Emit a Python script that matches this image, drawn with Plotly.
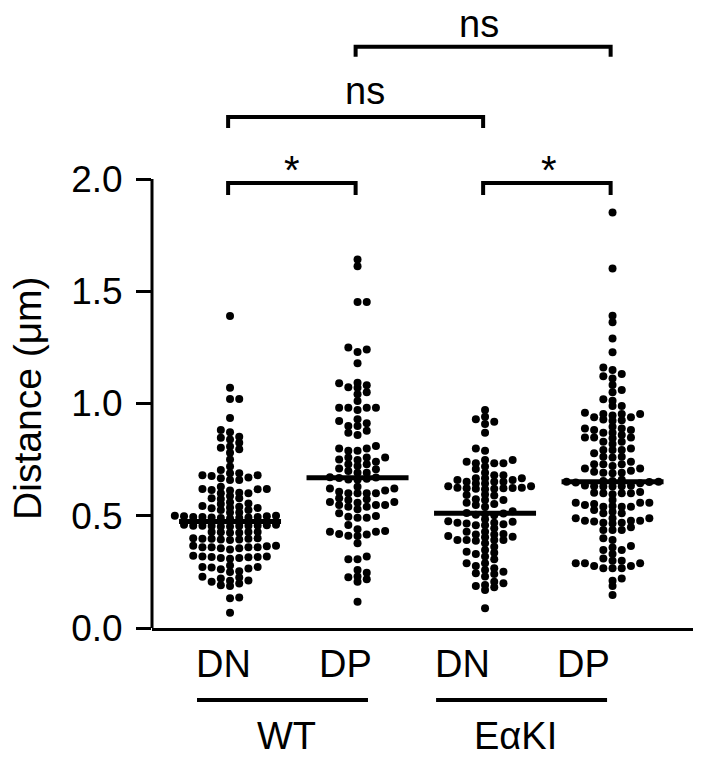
import numpy as np
import plotly.graph_objects as go

# ---------------- data (distance, µm) ----------------
group_labels = ["DN", "DP", "DN", "DP"]
genotype_labels = ["WT", "EαKI"]
y_tick_values = [0.0, 0.5, 1.0, 1.5, 2.0]
y_tick_labels = ["0.0", "0.5", "1.0", "1.5", "2.0"]
y_title = "Distance (μm)"

wt_dn = [
    1.39, 1.07, 1.02, 1.02, 0.935, 0.882, 0.872, 0.852, 0.840, 0.848, 0.825,
    0.803, 0.796, 0.808, 0.781, 0.751, 0.719, 0.704,
    0.689, 0.681, 0.670, 0.659, 0.667, 0.677, 0.681, 0.689, 0.659,
    0.615, 0.612, 0.600, 0.619, 0.619, 0.629, 0.588, 0.603, 0.618, 0.600,
    0.578, 0.578, 0.575,
    0.560, 0.552, 0.543, 0.537, 0.535, 0.533, 0.540, 0.555,
    0.514, 0.526, 0.514, 0.526,
    0.500, 0.498, 0.494, 0.492, 0.490, 0.492, 0.494, 0.494, 0.498, 0.500, 0.490, 0.488,
    0.458, 0.460, 0.456, 0.454, 0.456, 0.452, 0.454, 0.456, 0.452, 0.456, 0.460,
    0.428, 0.426, 0.424, 0.428, 0.428, 0.424,
    0.400, 0.398, 0.394, 0.392, 0.398, 0.394, 0.398, 0.400,
    0.366, 0.360, 0.360, 0.355, 0.360, 0.350, 0.355, 0.360, 0.364, 0.366,
    0.322, 0.318, 0.312, 0.316, 0.308, 0.316, 0.312, 0.318, 0.315,
    0.278, 0.272, 0.262, 0.270, 0.250, 0.253, 0.265, 0.272,
    0.228, 0.220, 0.212, 0.206, 0.198, 0.210, 0.225,
    0.187, 0.190, 0.136, 0.132, 0.068,
]

wt_dp = [
    1.642, 1.612, 1.452, 1.452, 1.241, 1.229, 1.250, 1.179,
    1.093, 1.081, 1.090, 1.070, 1.072, 1.041, 1.050, 1.011,
    0.981, 0.981, 0.971, 0.981, 0.981,
    0.930, 0.912, 0.922, 0.900, 0.900, 0.870, 0.860, 0.879,
    0.811, 0.800, 0.790, 0.790, 0.800,
    0.760, 0.760, 0.748, 0.741, 0.751, 0.760, 0.730, 0.722, 0.730,
    0.711, 0.699, 0.707, 0.692, 0.692,
    0.670, 0.665, 0.668, 0.662, 0.672, 0.660,
    0.629, 0.621, 0.607, 0.600, 0.600, 0.600, 0.600, 0.612, 0.621,
    0.573, 0.561, 0.561, 0.548, 0.540, 0.540, 0.548, 0.548, 0.558, 0.570, 0.578,
    0.529, 0.511, 0.491, 0.491, 0.496, 0.499, 0.459,
    0.440, 0.429, 0.429, 0.432, 0.417, 0.419, 0.410, 0.411, 0.377,
    0.306, 0.306, 0.318,
    0.229, 0.217, 0.206, 0.226, 0.246, 0.258, 0.117,
]

ki_dn = [
    0.971, 0.930, 0.919, 0.941, 0.909, 0.870, 0.800, 0.790,
    0.748, 0.734, 0.734, 0.734, 0.741, 0.748, 0.719, 0.708,
    0.681, 0.681, 0.692,
    0.667, 0.659, 0.652, 0.644, 0.652, 0.644, 0.652, 0.659, 0.667, 0.667,
    0.625, 0.620, 0.622, 0.618, 0.620, 0.625, 0.622, 0.624, 0.632, 0.632,
    0.592, 0.590, 0.595,
    0.573, 0.570, 0.552, 0.540, 0.548, 0.558, 0.570,
    0.512, 0.508, 0.510, 0.520, 0.505, 0.502,
    0.469, 0.458, 0.465, 0.473, 0.476, 0.458, 0.462, 0.469, 0.484,
    0.444, 0.429, 0.417, 0.429,
    0.419, 0.410, 0.392, 0.392, 0.404, 0.377, 0.392, 0.389, 0.392, 0.407, 0.417,
    0.362, 0.340, 0.330, 0.335, 0.347, 0.318,
    0.306, 0.288, 0.276, 0.288,
    0.258, 0.241, 0.229, 0.244, 0.251, 0.266,
    0.206, 0.192, 0.181, 0.169, 0.187, 0.199, 0.088,
]

ki_dp = [
    1.851, 1.602, 1.362, 1.391, 1.290, 1.228,
    1.160, 1.131, 1.112, 1.122, 1.149, 1.060, 1.050, 1.082,
    1.012, 0.989, 0.989, 1.019,
    0.953, 0.953, 0.939, 0.939, 0.947, 0.953, 0.959, 0.923, 0.926, 0.929,
    0.882, 0.870, 0.860, 0.897, 0.889, 0.889, 0.882, 0.870,
    0.849, 0.845, 0.849, 0.849, 0.830, 0.820, 0.830,
    0.793, 0.793, 0.793, 0.800, 0.778, 0.759, 0.763, 0.763, 0.741,
    0.730, 0.730, 0.711, 0.696, 0.692, 0.689, 0.692, 0.701, 0.711, 0.722, 0.730,
    0.655, 0.652, 0.650, 0.648, 0.655, 0.652, 0.660, 0.645,
    0.635, 0.632, 0.630, 0.632, 0.630, 0.634,
    0.603, 0.600, 0.596, 0.600, 0.600, 0.606,
    0.570, 0.558, 0.548, 0.540, 0.540, 0.540, 0.543, 0.552, 0.558, 0.558, 0.526,
    0.511, 0.489, 0.489, 0.489, 0.511, 0.518, 0.474, 0.478, 0.469, 0.469, 0.478, 0.478, 0.466,
    0.449, 0.437, 0.437, 0.437, 0.392, 0.400,
    0.359, 0.347, 0.330, 0.347, 0.365,
    0.310, 0.300, 0.288, 0.276, 0.266, 0.266, 0.266, 0.276, 0.288, 0.288, 0.300,
    0.221, 0.211, 0.187, 0.147,
]

series = [wt_dn, wt_dp, ki_dn, ki_dp]

# significance comparisons: (group a, group b, label, level)
comparisons = [
    (0, 1, "*", 0),
    (2, 3, "*", 0),
    (0, 2, "ns", 1),
    (1, 3, "ns", 2),
]

# ---------------- layout geometry ----------------
W, H = 706, 762
ML, MR, MT, MB = 152, 13, 10, 134
X_RANGE = [-0.612, 3.631]
Y_RANGE = [0.0, 2.753]
plot_w = W - ML - MR
plot_h = H - MT - MB
px_per_x = plot_w / (X_RANGE[1] - X_RANGE[0])
px_per_y = plot_h / (Y_RANGE[1] - Y_RANGE[0])

FONT = "Liberation Sans, Arial, sans-serif"
DOT = 8.0        # marker diameter, px
COL_STEP = 9.2   # horizontal column spacing, px
ROW_GAP = 5.0    # min vertical gap between dots sharing a column, px


def column_swarm(vals, step, gap):
    """Prism-like scatter: each dot goes to the most central free column."""
    ys = np.asarray(vals, float) * px_per_y
    order = np.argsort(ys, kind="stable")
    cols = {}
    offs = np.zeros(len(ys))
    side = 1
    for idx in order:
        y = ys[idx]
        cands = [0]
        for m in range(1, 80):
            cands += [m * side, -m * side]
        for c in cands:
            if all(abs(y - q) >= gap for q in cols.get(c, [])):
                break
        cols.setdefault(c, []).append(y)
        offs[idx] = c * step
        if c != 0:
            side = -side
    return offs


fig = go.Figure()

for i, vals in enumerate(series):
    offs = column_swarm(vals, COL_STEP, ROW_GAP) / px_per_x
    fig.add_trace(go.Scatter(
        x=i + offs, y=vals, mode="markers",
        marker=dict(size=DOT, color="black", line=dict(width=0)),
        showlegend=False, hoverinfo="y", cliponaxis=False,
    ))
    med = float(np.median(vals))
    fig.add_trace(go.Scatter(
        x=[i - 0.40, i + 0.40], y=[med, med], mode="lines",
        line=dict(color="black", width=5), showlegend=False, hoverinfo="skip",
    ))

shapes = []
# y axis line only from 0 to 2.0
shapes.append(dict(type="line", xref="paper", yref="y", x0=0, x1=0,
                   y0=y_tick_values[0], y1=y_tick_values[-1],
                   line=dict(color="black", width=3)))

# significance brackets
levels = [(1.982, 1.929), (2.276, 2.227), (2.589, 2.545)]
annotations = []
label_dx = {(0, 1): 0.0, (2, 3): 0.02, (0, 2): 0.07, (1, 3): -0.035}
for a, b, lab, lev in comparisons:
    top, leg = levels[lev]
    xa, xb = a - 0.015, b - 0.015
    shapes.append(dict(type="path", xref="x", yref="y",
                       path=f"M {xa},{leg} L {xa},{top} L {xb},{top} L {xb},{leg}",
                       line=dict(color="black", width=4)))
    if lab == "*":
        ty, size = 2.040, 40
    else:
        ty = 2.392 if lev == 1 else 2.690
        size = 38
    annotations.append(dict(x=(xa + xb) / 2 + label_dx[(a, b)], y=ty, xref="x", yref="y",
                            text=lab, showarrow=False, xanchor="center", yanchor="middle",
                            font=dict(family=FONT, size=size, color="black")))

# category labels below axis
cat_x = [-0.055, 0.902, 1.827, 2.769]
for lab, cx in zip(group_labels, cat_x):
    annotations.append(dict(x=cx, y=-0.0583, xref="x", yref="paper", text=lab,
                            showarrow=False, xanchor="center", yanchor="middle",
                            font=dict(family=FONT, size=38, color="black")))

# genotype underlines and labels
geno_lines = [(-0.259, 1.082), (1.616, 2.957)]
geno_x = [0.439, 2.235]
for (x0, x1), gx, lab in zip(geno_lines, geno_x, genotype_labels):
    shapes.append(dict(type="line", xref="x", yref="paper", x0=x0, x1=x1,
                       y0=-0.1166, y1=-0.1166, line=dict(color="black", width=4)))
    annotations.append(dict(x=gx, y=-0.174, xref="x", yref="paper", text=lab,
                            showarrow=False, xanchor="center", yanchor="middle",
                            font=dict(family=FONT, size=38, color="black")))

# y axis title
annotations.append(dict(x=-0.229, y=0.3725, xref="paper", yref="paper", text=y_title,
                        textangle=-90, showarrow=False, xanchor="center", yanchor="middle",
                        font=dict(family=FONT, size=39, color="black")))

fig.update_layout(
    width=W, height=H,
    margin=dict(l=ML, r=MR, t=MT, b=MB, pad=0),
    paper_bgcolor="white", plot_bgcolor="white",
    shapes=shapes, annotations=annotations,
    showlegend=False,
    font=dict(family=FONT, color="black"),
    xaxis=dict(range=X_RANGE, showgrid=False, zeroline=False, showline=True,
               linecolor="black", linewidth=3, ticks="", showticklabels=False,
               fixedrange=True),
    yaxis=dict(range=Y_RANGE, showgrid=False, zeroline=False, showline=False,
               tickmode="array", tickvals=y_tick_values, ticktext=y_tick_labels,
               ticks="outside", ticklen=15, tickwidth=3, tickcolor="black",
               tickfont=dict(family=FONT, size=37, color="black"),
               ticklabelstandoff=6, fixedrange=True),
)

fig.write_html("out.html",
               config={"displayModeBar": False, "staticPlot": True},
               post_script="document.body.style.margin='0px';document.body.style.overflow='hidden';")
